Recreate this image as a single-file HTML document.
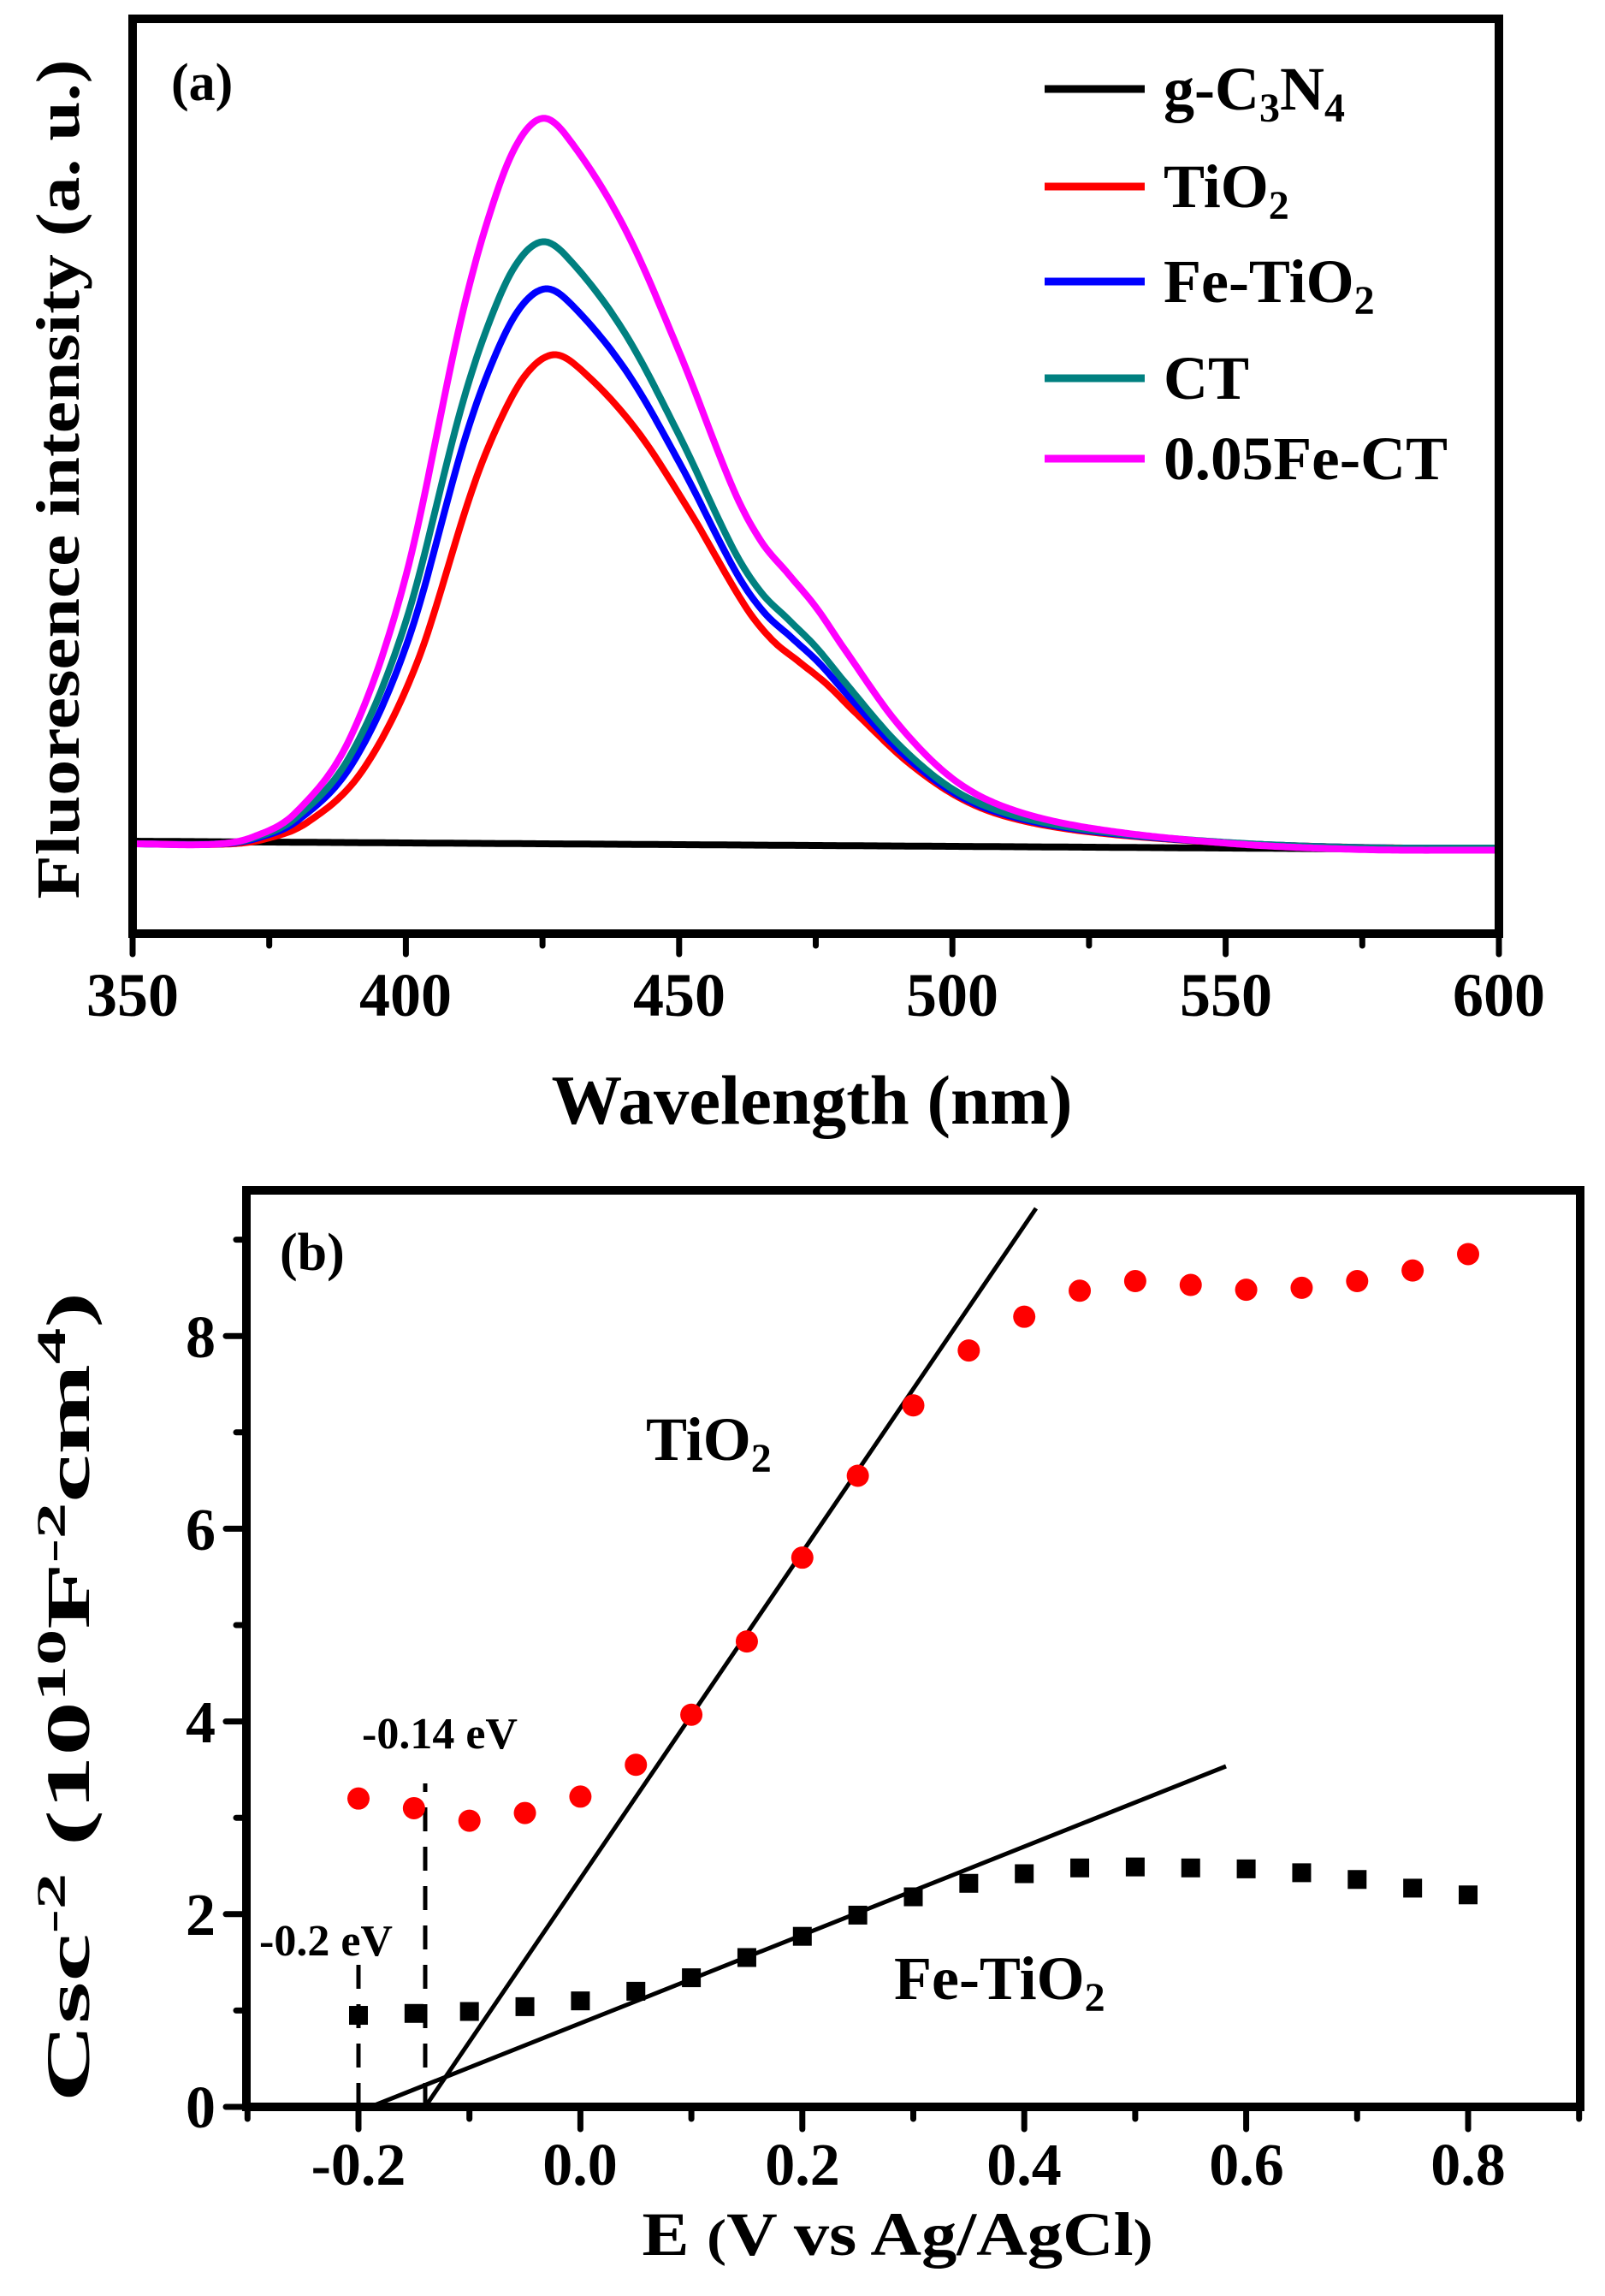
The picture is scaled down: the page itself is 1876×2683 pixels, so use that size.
<!DOCTYPE html>
<html><head><meta charset="utf-8"><style>
html,body{margin:0;padding:0;background:#fff}
svg{display:block}
text{font-family:"Liberation Serif","Times New Roman",Times,serif;font-weight:bold;fill:#000}
</style></head><body>
<svg id="s" width="1876" height="2683" viewBox="0 0 1876 2683" xmlns="http://www.w3.org/2000/svg" font-family="Liberation Serif, serif" font-weight="bold">
<rect width="1876" height="2683" fill="#fff"/>
<g id="curves" fill="none" stroke-width="8" stroke-linejoin="round" stroke-linecap="round"></g>
<rect x="155" y="22" width="1597" height="1069" fill="none" stroke="#000" stroke-width="10"/>
<g id="ta" stroke="#000" stroke-width="7" stroke-linecap="round"></g>
<g font-size="72" text-anchor="middle">
<text x="155" y="1187">350</text><text x="474" y="1187">400</text><text x="794" y="1187">450</text>
<text x="1113" y="1187">500</text><text x="1433" y="1187">550</text><text x="1752" y="1187">600</text>
</g>
<text x="200" y="117" font-size="62">(a)</text>
<text x="949" y="1313" font-size="82" text-anchor="middle" textLength="609" lengthAdjust="spacingAndGlyphs">Wavelength (nm)</text>
<text transform="translate(92,560) rotate(-90)" font-size="72" text-anchor="middle" textLength="981" lengthAdjust="spacingAndGlyphs">Fluoresence intensity (a. u.)</text>
<g stroke-width="9">
<line x1="1221" y1="104" x2="1338" y2="104" stroke="#000"/>
<line x1="1221" y1="218" x2="1338" y2="218" stroke="#f00"/>
<line x1="1221" y1="329" x2="1338" y2="329" stroke="#00f"/>
<line x1="1221" y1="442" x2="1338" y2="442" stroke="#008080"/>
<line x1="1221" y1="536" x2="1338" y2="536" stroke="#f0f"/>
</g>
<g font-size="72">
<text x="1360" y="128">g-C<tspan font-size="48" dy="14">3</tspan><tspan dy="-14">N</tspan><tspan font-size="48" dy="14">4</tspan></text>
<text x="1360" y="242">TiO<tspan font-size="48" dy="14">2</tspan></text>
<text x="1360" y="353">Fe-TiO<tspan font-size="48" dy="14">2</tspan></text>
<text x="1360" y="466">CT</text>
<text x="1360" y="560" textLength="332" lengthAdjust="spacingAndGlyphs">0.05Fe-CT</text>
</g>

<rect x="288" y="1391" width="1559" height="1071" fill="none" stroke="#000" stroke-width="10"/>
<g id="tb" stroke="#000" stroke-width="7" stroke-linecap="round"></g>
<g stroke="#000" stroke-width="5" fill="none">
<line x1="497" y1="2462" x2="1211" y2="1412"/>
<line x1="433" y1="2462" x2="1433" y2="2064"/>
<line x1="419" y1="2462" x2="419" y2="2294" stroke-dasharray="28,18"/>
<line x1="497" y1="2462" x2="497" y2="2084" stroke-dasharray="28,18"/>
</g>
<g id="pts"></g>
<g font-size="70" text-anchor="end">
<text x="252" y="2486">0</text><text x="252" y="2261">2</text><text x="252" y="2036">4</text>
<text x="252" y="1811">6</text><text x="252" y="1586">8</text>
</g>
<g font-size="70" text-anchor="middle">
<text x="419" y="2553">-0.2</text><text x="678" y="2553">0.0</text><text x="938" y="2553">0.2</text>
<text x="1197" y="2553">0.4</text><text x="1457" y="2553">0.6</text><text x="1716" y="2553">0.8</text>
</g>
<text x="327" y="1484" font-size="62">(b)</text>
<text x="755" y="1706" font-size="72">TiO<tspan font-size="48" dy="14">2</tspan></text>
<text x="1045" y="2336" font-size="72">Fe-TiO<tspan font-size="48" dy="14">2</tspan></text>
<text x="423" y="2043" font-size="52">-0.14 eV</text>
<text x="303" y="2285" font-size="52">-0.2 eV</text>
<text x="1049" y="2635" font-size="72" text-anchor="middle" textLength="597" lengthAdjust="spacingAndGlyphs">E <tspan font-size="60">(</tspan>V vs Ag/AgCl<tspan font-size="60">)</tspan></text>
<text transform="translate(104,1983) rotate(-90)" font-size="72" text-anchor="middle" textLength="947" lengthAdjust="spacingAndGlyphs">Csc<tspan font-size="48" dy="-28">-2</tspan><tspan dy="28"> (10</tspan><tspan font-size="48" dy="-28">10</tspan><tspan dy="28">F</tspan><tspan font-size="48" dy="-28">-2</tspan><tspan dy="28">cm</tspan><tspan font-size="48" dy="-28">4</tspan><tspan dy="28">)</tspan></text>
</svg>
<script>
var NS="http://www.w3.org/2000/svg";
function el(p,t,a){var e=document.createElementNS(NS,t);for(var k in a)e.setAttribute(k,a[k]);p.appendChild(e);return e;}
var P=[[330,0],[350,0],[365,0],[372,0.01],[380,0.045],[390,0.15],[400,0.37],[410,0.72],[415,0.86],[420,0.96],[425,1],[430,0.97],[440,0.85],[450,0.68],[460,0.49],[465,0.42],[470,0.375],[475,0.33],[480,0.275],[490,0.17],[500,0.095],[510,0.055],[525,0.028],[550,0.008],[575,0],[600,0],[620,0]];
function f(l){for(var i=1;i<P.length-2;i++){if(l>=P[i][0]&&l<=P[i+1][0]){
var x0=P[i-1],x1=P[i],x2=P[i+1],x3=P[i+2];var h=x2[0]-x1[0];var t=(l-x1[0])/h;
var m1=(x2[1]-x0[1])/(x2[0]-x0[0])*h, m2=(x3[1]-x1[1])/(x3[0]-x1[0])*h;
var t2=t*t,t3=t2*t;return (2*t3-3*t2+1)*x1[1]+(t3-2*t2+t)*m1+(-2*t3+3*t2)*x2[1]+(t3-t2)*m2;}}return 0;}
function X(l){return 155+(l-350)*6.388;}
var cg=document.getElementById("curves");
var series=[["#000",0,0],["#f00",573,2],["#00f",650,0.5],["#008080",705,0],["#f0f",850,0]];
series.forEach(function(s){var d="";for(var l=350;l<=600;l+=0.5){var base=983+(l-350)*0.04;if(s[1]>0)base=986+(l-350)*0.02;if(s[0]=="#f0f")base=986+(l-350)*0.03;var y=base-s[1]*f(l-s[2]);d+=(d?"L":"M")+X(l).toFixed(1)+","+y.toFixed(1);}el(cg,"path",{d:d,stroke:s[0]});});
var ta=document.getElementById("ta");
for(var l=350;l<=600;l+=25){var maj=(l%50==0);el(ta,"line",{x1:X(l),y1:1091,x2:X(l),y2:1091+(maj?24:14)});}
var tb=document.getElementById("tb");
function EX(e){return 419+(e+0.2)*1297;} function VY(v){return 2462-v*112.6;}
for(var i=-3;i<=9;i++){var e=i/10;var maj=(i%2==0);el(tb,"line",{x1:EX(e),y1:2462,x2:EX(e),y2:2462+(maj?26:14)});}
for(var v=0;v<=9;v++){var maj=(v%2==0);el(tb,"line",{x1:288,y1:VY(v),x2:288-(maj?24:12),y2:VY(v)});}
var red=[3.2,3.1,2.97,3.05,3.22,3.55,4.07,4.83,5.7,6.55,7.28,7.85,8.2,8.47,8.57,8.53,8.48,8.5,8.57,8.68,8.85];
var blk=[0.95,0.97,0.99,1.04,1.1,1.2,1.34,1.55,1.77,1.99,2.18,2.32,2.42,2.48,2.49,2.48,2.47,2.43,2.36,2.27,2.2];
var pts=document.getElementById("pts");
for(var i=0;i<21;i++){var e=-0.2+i*0.05;el(pts,"circle",{cx:EX(e),cy:VY(red[i]),r:13,fill:"#f00"});el(pts,"rect",{x:EX(e)-11,y:VY(blk[i])-11,width:22,height:22,fill:"#000"});}
</script>
</body></html>
